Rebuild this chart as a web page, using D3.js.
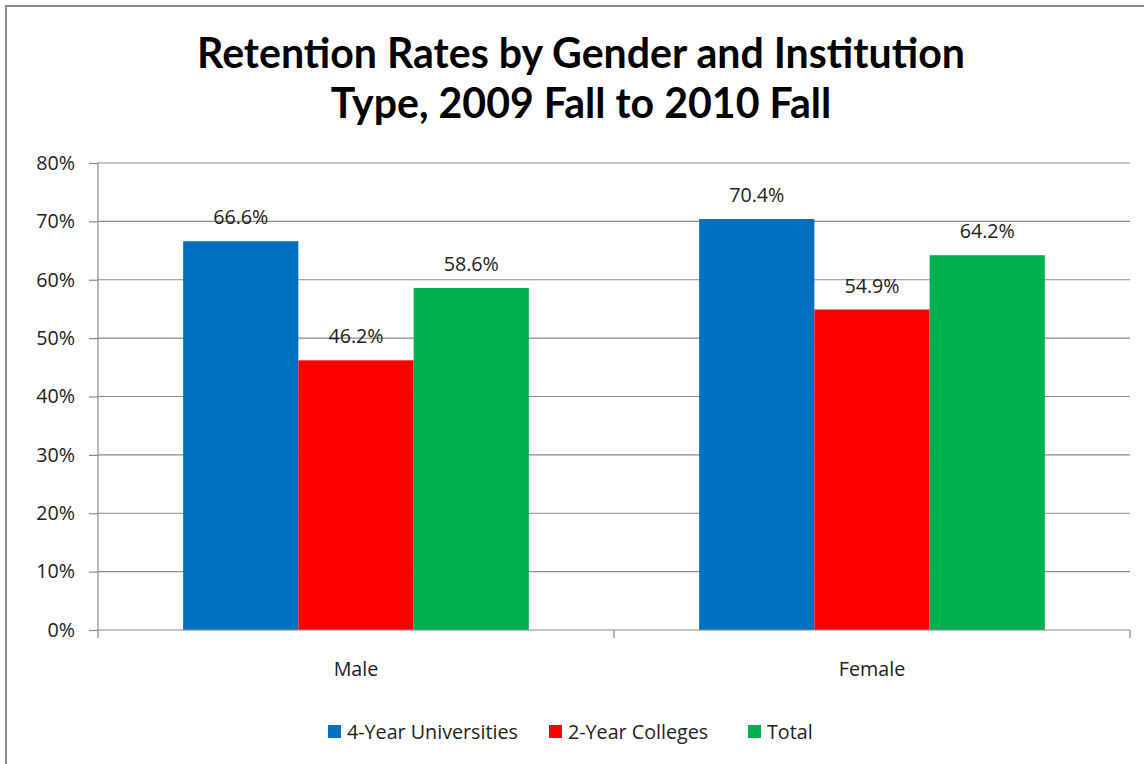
<!DOCTYPE html>
<html>
<head>
<meta charset="utf-8">
<script src="https://cdn.jsdelivr.net/npm/d3@7"></script>
<style>
  html, body { margin: 0; padding: 0; background: #fff; }
  svg { display: block; font-family: "Open Sans", Lato, sans-serif; }
</style>
</head>
<body>
<svg id="chart" width="1144" height="764"></svg>
<script>
const titleLines = ["Retention Rates by Gender and Institution", "Type, 2009 Fall to 2010 Fall"];
const categories = ["Male", "Female"];
const seriesNames = ["4-Year Universities", "2-Year Colleges", "Total"];
const seriesColors = ["#0070C0", "#FF0000", "#00B050"];
const univValues = [66.6, 70.4];
const collegeValues = [46.2, 54.9];
const totalValues = [58.6, 64.2];
const yTicks = [0, 10, 20, 30, 40, 50, 60, 70, 80];

const seriesValues = [univValues, collegeValues, totalValues];
const svg = d3.select("#chart");
const FONT = "'Open Sans', Lato, sans-serif";

// outer frame
svg.append("rect").attr("x", 6).attr("y", 6).attr("width", 1160).attr("height", 780)
  .attr("fill", "#fff").attr("stroke", "#8c8c8c").attr("stroke-width", 2);

// fit label font size so legend text matches reference width
const tmp = svg.append("text").attr("font-family", FONT).attr("font-size", 20).text(seriesNames[0]);
const w20 = tmp.node().getComputedTextLength();
tmp.remove();
const fs = Math.min(21, 20 * 171 / w20);

const plot = { left: 98, right: 1130, top: 163, bottom: 630 };

const x0 = d3.scaleBand().domain(categories).range([plot.left, plot.right]).paddingInner(0).paddingOuter(0);
const innerPad = 0.33;
const x1 = d3.scaleBand().domain(seriesNames)
  .range([x0.bandwidth() * innerPad / 2, x0.bandwidth() * (1 - innerPad / 2)]).padding(0);
const y = d3.scaleLinear().domain([0, 80]).range([plot.bottom, plot.top]);

// gridlines
svg.append("g").selectAll("line").data(yTicks.filter(d => d > 0)).join("line")
  .attr("x1", plot.left).attr("x2", plot.right)
  .attr("y1", d => y(d)).attr("y2", d => y(d))
  .attr("stroke", "#8a8a8a").attr("stroke-width", 1.2);

// y axis
const yAxis = d3.axisLeft(y).tickValues(yTicks).tickFormat(d => d + "%").tickSize(9).tickPadding(14);
const gy = svg.append("g").attr("transform", `translate(${plot.left},0)`).call(yAxis);
gy.select(".domain").attr("stroke", "#8a8a8a").attr("stroke-width", 1.2).attr("d", `M0,${plot.top}V${plot.bottom}`);
gy.selectAll(".tick line").attr("stroke", "#8a8a8a").attr("stroke-width", 1.2);
gy.selectAll(".tick text").attr("font-size", fs).attr("fill", "#222").attr("font-family", FONT);

// bars
const groups = svg.append("g").selectAll("g").data(categories).join("g")
  .attr("transform", d => `translate(${x0(d)},0)`);
groups.selectAll("rect").data((c, ci) => seriesNames.map((s, si) => ({ s, si, v: seriesValues[si][ci] })))
  .join("rect")
  .attr("x", d => x1(d.s)).attr("width", x1.bandwidth())
  .attr("y", d => y(d.v)).attr("height", d => plot.bottom - y(d.v))
  .attr("fill", d => seriesColors[d.si]);
groups.selectAll("text").data((c, ci) => seriesNames.map((s, si) => ({ s, si, v: seriesValues[si][ci] })))
  .join("text")
  .attr("x", d => x1(d.s) + x1.bandwidth() / 2).attr("y", d => y(d.v) - 17)
  .attr("text-anchor", "middle").attr("font-size", fs).attr("fill", "#222")
  .text(d => d.v.toFixed(1) + "%");

// x axis
svg.append("line").attr("x1", plot.left).attr("x2", plot.right).attr("y1", plot.bottom).attr("y2", plot.bottom)
  .attr("stroke", "#8a8a8a").attr("stroke-width", 1.2);
const boundaries = [plot.left, ...categories.map(c => x0(c) + x0.bandwidth())];
svg.append("g").selectAll("line").data(boundaries).join("line")
  .attr("x1", d => d).attr("x2", d => d).attr("y1", plot.bottom).attr("y2", plot.bottom + 8)
  .attr("stroke", "#8a8a8a").attr("stroke-width", 1.2);
svg.append("g").selectAll("text").data(categories).join("text")
  .attr("x", d => x0(d) + x0.bandwidth() / 2).attr("y", 676)
  .attr("text-anchor", "middle").attr("font-size", fs).attr("fill", "#222")
  .text(d => d);

// title
const titleWidth = 768;
const TFONT = "Lato, 'Open Sans', sans-serif";
const tTmp = svg.append("text").attr("font-family", TFONT).attr("font-size", 36).attr("font-weight", "bold").text(titleLines[0]);
const w36 = tTmp.node().getComputedTextLength();
tTmp.remove();
const titleSize = 36 * titleWidth / w36;
svg.append("g").selectAll("text").data(titleLines).join("text")
  .attr("x", 581).attr("y", (d, i) => 68 + i * 49.5)
  .attr("text-anchor", "middle").attr("font-family", TFONT).attr("font-size", titleSize)
  .attr("font-weight", "bold").attr("fill", "#000")
  .text(d => d);

// legend
const legend = svg.append("g");
const legendStarts = [328, 549, 748];
seriesNames.forEach((s, i) => {
  legend.append("rect").attr("x", legendStarts[i]).attr("y", 725).attr("width", 13).attr("height", 13)
    .attr("fill", seriesColors[i]);
  legend.append("text").attr("x", legendStarts[i] + 19).attr("y", 739)
    .attr("font-size", fs).attr("fill", "#222").text(s);
});
</script>
</body>
</html>
